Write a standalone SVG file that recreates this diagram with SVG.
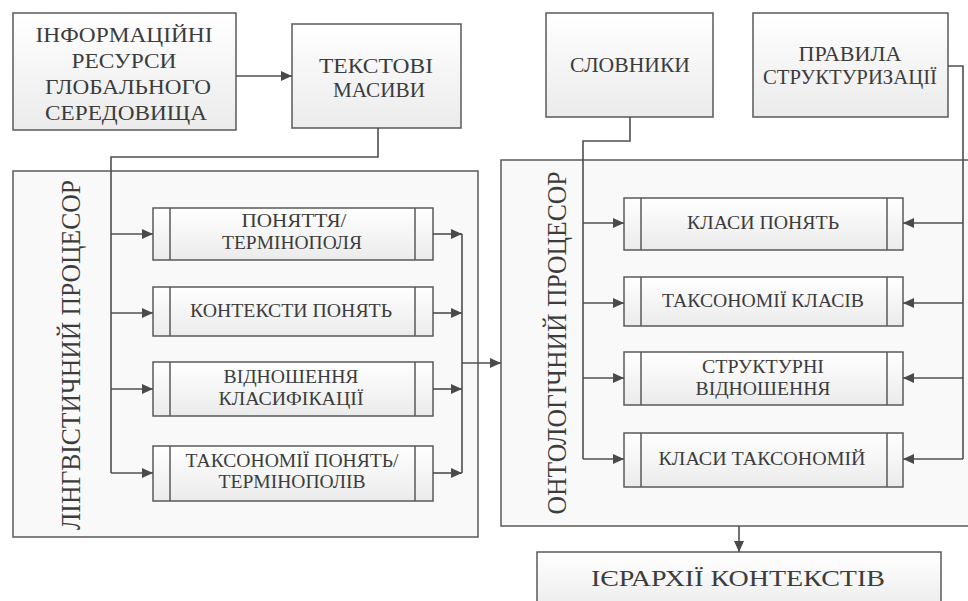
<svg xmlns="http://www.w3.org/2000/svg" width="968" height="601" viewBox="0 0 968 601">
<defs>
<linearGradient id="g" x1="0" y1="0" x2="0" y2="1">
<stop offset="0" stop-color="#ffffff"/>
<stop offset="1" stop-color="#ebebeb"/>
</linearGradient>
<marker id="a" markerWidth="12" markerHeight="10" refX="11" refY="5" orient="auto" markerUnits="userSpaceOnUse">
<path d="M0,0 L11,5 L0,10 Z" fill="#4a4a4a"/>
</marker>
</defs>
<g id="lingv-processor">
<rect x="13" y="171" width="465" height="366" fill="#f9f9f9" stroke="#5a5a5a" stroke-width="1.5"/>
<text style="font-family:'Liberation Serif',serif !important" fill="#3c3c3c" text-anchor="middle" font-size="28" transform="translate(80,355) rotate(-90)" textLength="350" lengthAdjust="spacingAndGlyphs">ЛІНГВІСТИЧНИЙ ПРОЦЕСОР</text>
</g>
<g id="onto-processor">
<rect x="501" y="160" width="480" height="366" fill="#f9f9f9" stroke="#5a5a5a" stroke-width="1.5"/>
<text style="font-family:'Liberation Serif',serif !important" fill="#3c3c3c" text-anchor="middle" font-size="28" transform="translate(566,343) rotate(-90)" textLength="343" lengthAdjust="spacingAndGlyphs">ОНТОЛОГІЧНИЙ ПРОЦЕСОР</text>
</g>
<g fill="url(#g)" stroke="#5a5a5a" stroke-width="1.5">
<g id="info-resources"><rect x="13" y="13" width="223" height="117"/></g>
<g id="text-arrays"><rect x="292" y="24" width="169" height="104"/></g>
<g id="dictionaries"><rect x="546" y="13" width="167" height="104"/></g>
<g id="rules"><rect x="753" y="13" width="195" height="104"/></g>
<g id="l1"><rect x="153" y="208" width="280" height="52"/><path d="M170,208V260M415,208V260"/></g>
<g id="l2"><rect x="153" y="287" width="280" height="49"/><path d="M170,287V336M415,287V336"/></g>
<g id="l3"><rect x="153" y="362" width="280" height="54"/><path d="M170,362V416M415,362V416"/></g>
<g id="l4"><rect x="153" y="446" width="280" height="55"/><path d="M170,446V501M415,446V501"/></g>
<g id="o1"><rect x="624" y="198" width="279" height="52"/><path d="M641,198V250M887,198V250"/></g>
<g id="o2"><rect x="624" y="277" width="279" height="49"/><path d="M641,277V326M887,277V326"/></g>
<g id="o3"><rect x="624" y="352" width="279" height="53"/><path d="M641,352V405M887,352V405"/></g>
<g id="o4"><rect x="624" y="433" width="279" height="54"/><path d="M641,433V487M887,433V487"/></g>
<g id="hierarchies"><rect x="537" y="552" width="404" height="60"/></g>
</g>
<g id="labels" fill="#3c3c3c" text-anchor="middle">
<text style="font-family:'Liberation Serif',serif !important" font-size="20" x="124" y="42" textLength="177" lengthAdjust="spacingAndGlyphs">ІНФОРМАЦІЙНІ</text>
<text style="font-family:'Liberation Serif',serif !important" font-size="20" x="124" y="68" textLength="105" lengthAdjust="spacingAndGlyphs">РЕСУРСИ</text>
<text style="font-family:'Liberation Serif',serif !important" font-size="20" x="128" y="94" textLength="166" lengthAdjust="spacingAndGlyphs">ГЛОБАЛЬНОГО</text>
<text style="font-family:'Liberation Serif',serif !important" font-size="20" x="126" y="120" textLength="162" lengthAdjust="spacingAndGlyphs">СЕРЕДОВИЩА</text>
<text style="font-family:'Liberation Serif',serif !important" font-size="20" x="376" y="73" textLength="114" lengthAdjust="spacingAndGlyphs">ТЕКСТОВІ</text>
<text style="font-family:'Liberation Serif',serif !important" font-size="20" x="379" y="97" textLength="92" lengthAdjust="spacingAndGlyphs">МАСИВИ</text>
<text style="font-family:'Liberation Serif',serif !important" font-size="20" x="630" y="72" textLength="120" lengthAdjust="spacingAndGlyphs">СЛОВНИКИ</text>
<text style="font-family:'Liberation Serif',serif !important" font-size="20" x="850" y="61" textLength="103" lengthAdjust="spacingAndGlyphs">ПРАВИЛА</text>
<text style="font-family:'Liberation Serif',serif !important" font-size="20" x="850" y="84" textLength="174" lengthAdjust="spacingAndGlyphs">СТРУКТУРИЗАЦІЇ</text>
<text style="font-family:'Liberation Serif',serif !important" font-size="18" x="294" y="227" textLength="105" lengthAdjust="spacingAndGlyphs">ПОНЯТТЯ/</text>
<text style="font-family:'Liberation Serif',serif !important" font-size="18" x="292" y="249" textLength="140" lengthAdjust="spacingAndGlyphs">ТЕРМІНОПОЛЯ</text>
<text style="font-family:'Liberation Serif',serif !important" font-size="18" x="291" y="317" textLength="202" lengthAdjust="spacingAndGlyphs">КОНТЕКСТИ ПОНЯТЬ</text>
<text style="font-family:'Liberation Serif',serif !important" font-size="18" x="291" y="383" textLength="135" lengthAdjust="spacingAndGlyphs">ВІДНОШЕННЯ</text>
<text style="font-family:'Liberation Serif',serif !important" font-size="18" x="291" y="405" textLength="145" lengthAdjust="spacingAndGlyphs">КЛАСИФІКАЦІЇ</text>
<text style="font-family:'Liberation Serif',serif !important" font-size="18" x="292" y="467" textLength="213" lengthAdjust="spacingAndGlyphs">ТАКСОНОМІЇ ПОНЯТЬ/</text>
<text style="font-family:'Liberation Serif',serif !important" font-size="18" x="292" y="488" textLength="147" lengthAdjust="spacingAndGlyphs">ТЕРМІНОПОЛІВ</text>
<text style="font-family:'Liberation Serif',serif !important" font-size="18" x="763" y="229" textLength="152" lengthAdjust="spacingAndGlyphs">КЛАСИ ПОНЯТЬ</text>
<text style="font-family:'Liberation Serif',serif !important" font-size="18" x="763" y="307" textLength="202" lengthAdjust="spacingAndGlyphs">ТАКСОНОМІЇ КЛАСІВ</text>
<text style="font-family:'Liberation Serif',serif !important" font-size="18" x="763" y="373" textLength="122" lengthAdjust="spacingAndGlyphs">СТРУКТУРНІ</text>
<text style="font-family:'Liberation Serif',serif !important" font-size="18" x="763" y="395" textLength="135" lengthAdjust="spacingAndGlyphs">ВІДНОШЕННЯ</text>
<text style="font-family:'Liberation Serif',serif !important" font-size="18" x="762" y="465" textLength="207" lengthAdjust="spacingAndGlyphs">КЛАСИ ТАКСОНОМІЙ</text>
<text style="font-family:'Liberation Serif',serif !important" font-size="24" x="738" y="586" textLength="294" lengthAdjust="spacingAndGlyphs">ІЄРАРХІЇ КОНТЕКСТІВ</text>
</g>
<g id="connectors" fill="none" stroke="#4f4f4f" stroke-width="1.6">
<path d="M378,128 V157 H111 V473"/>
<path d="M462,234 V473"/>
<path d="M630,117 V141 H583 V459"/>
<path d="M948,66 H963 V459"/>
<g marker-end="url(#a)">
<path d="M236,76 H292"/>
<path d="M111,234 H153"/>
<path d="M111,313 H153"/>
<path d="M111,389 H153"/>
<path d="M111,473 H153"/>
<path d="M433,234 H462"/>
<path d="M433,313 H462"/>
<path d="M433,389 H462"/>
<path d="M433,473 H462"/>
<path d="M462,363 H501"/>
<path d="M583,223 H624"/>
<path d="M583,303 H624"/>
<path d="M583,378 H624"/>
<path d="M583,459 H624"/>
<path d="M963,223 H903"/>
<path d="M963,303 H903"/>
<path d="M963,378 H903"/>
<path d="M963,459 H903"/>
<path d="M739,526 V552"/>
</g>
</g>
</svg>
